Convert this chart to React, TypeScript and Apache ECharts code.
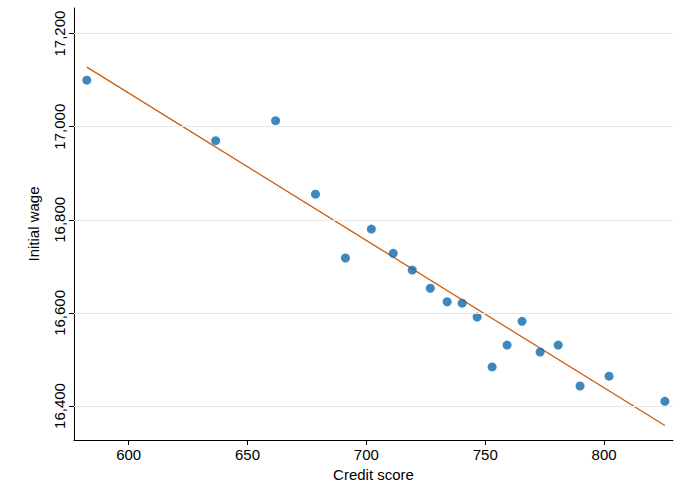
import React, { useEffect, useRef } from "react";
import * as echarts from "echarts";

const creditScore = [582.4, 636.6, 661.8, 678.6, 691.2, 702.1, 711.3, 719.3, 726.9, 734.0, 740.3, 746.6, 752.9, 759.2, 765.5, 773.1, 780.7, 789.9, 802.1, 825.6];
const initialWage = [17100, 16970, 17013, 16855, 16718, 16780, 16728, 16692, 16653, 16624, 16621, 16591, 16484, 16531, 16582, 16516, 16531, 16443, 16464, 16410];
const fitX = [582.4, 825.6];
const fitY = [17128, 16358];
const xTicks = [600, 650, 700, 750, 800];
const yTicks = [16400, 16600, 16800, 17000, 17200];

export default function App() {
  const ref = useRef<HTMLDivElement>(null);
  useEffect(() => {
    const chart = echarts.init(ref.current!, null, { renderer: "svg" });
    const font = "'Liberation Sans', Arial, sans-serif";
    chart.setOption({
      animation: false,
      grid: { left: 74, right: 1, top: 8, bottom: 47 },
      xAxis: {
        type: "value", min: 577, max: 829,
        name: "Credit score", nameLocation: "middle", nameGap: 24,
        nameTextStyle: { fontFamily: font, fontSize: 15, color: "#000" },
        axisLine: { show: true, onZero: false, lineStyle: { color: "#000" } },
        axisTick: { show: true, length: 5, lineStyle: { color: "#000" }, customValues: xTicks },
        axisLabel: { fontFamily: font, fontSize: 15, color: "#000", customValues: xTicks, margin: 7 },
        splitLine: { show: false },
      },
      yAxis: {
        type: "value", min: 16327, max: 17255,
        name: "Initial wage", nameLocation: "middle", nameGap: 33,
        nameTextStyle: { fontFamily: font, fontSize: 15, color: "#000" },
        axisLine: { show: true, onZero: false, lineStyle: { color: "#000" } },
        axisTick: { show: true, length: 5, lineStyle: { color: "#000" }, customValues: yTicks },
        axisLabel: {
          fontFamily: font, fontSize: 15, color: "#000", rotate: 90, customValues: yTicks, margin: 7,
          formatter: (v: number) => v.toLocaleString("en-US"),
        },
        splitLine: { show: false },
      },
      series: [
        {
          type: "scatter", symbolSize: 9, itemStyle: { color: "#0f6aad" },
          data: creditScore.map((x, i) => [x, initialWage[i]]),
          markLine: {
            silent: true, symbol: "none", label: { show: false },
            lineStyle: { color: "#e8e8e8", type: "solid", width: 1 },
            data: yTicks.map((y) => ({ yAxis: y })),
          },
          z: 3,
        },
        {
          type: "line", symbol: "none", lineStyle: { color: "#cc5c0a", width: 1.3 },
          data: fitX.map((x, i) => [x, fitY[i]]), z: 2,
        },
      ],
    });
    return () => chart.dispose();
  }, []);
  return <div ref={ref} style={{ width: 674, height: 487, position: "absolute", left: 0, top: 0 }} />;
}
